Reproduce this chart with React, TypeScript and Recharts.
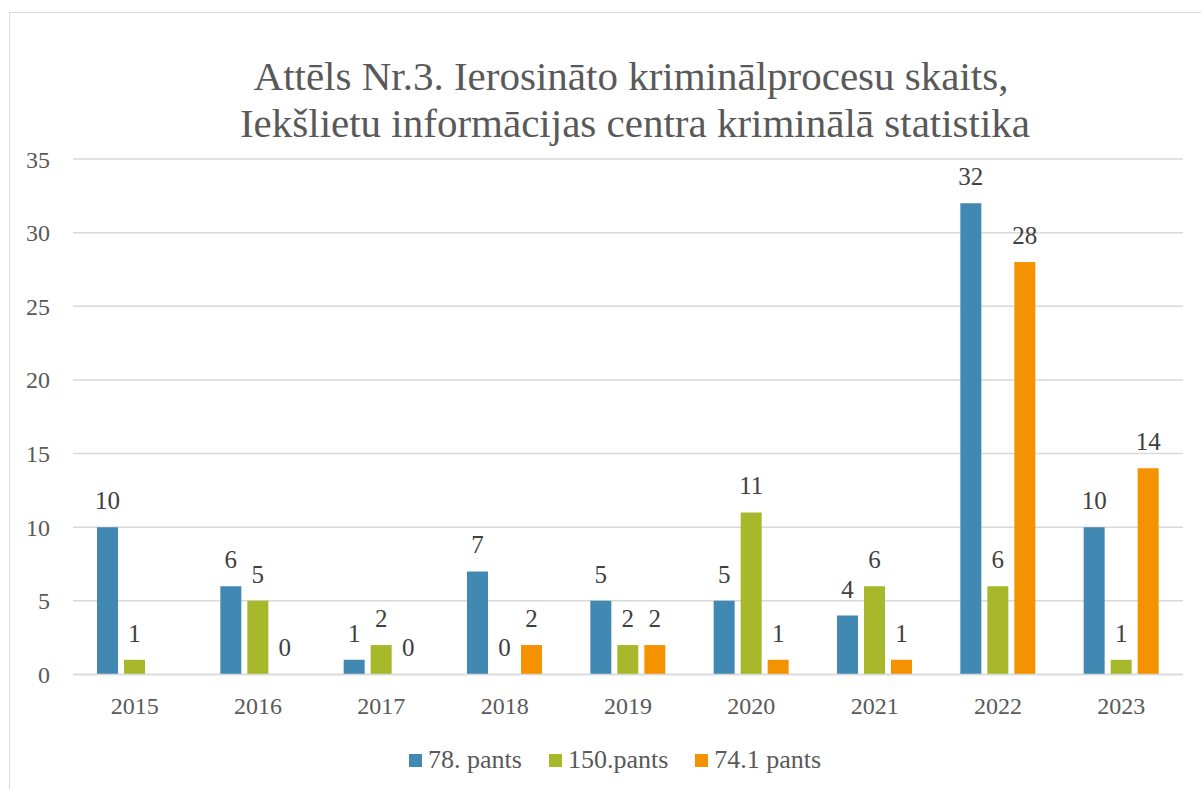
import React from "react";
import { BarChart, Bar, XAxis, YAxis, CartesianGrid, LabelList } from "recharts";

const years = ["2015", "2016", "2017", "2018", "2019", "2020", "2021", "2022", "2023"];
const pants78 = [10, 6, 1, 7, 5, 5, 4, 32, 10];
const pants150 = [1, 5, 2, 0, 2, 11, 6, 6, 1];
const pants741: (number | null)[] = [null, 0, 0, 2, 2, 1, 1, 28, 14];
const yTicks = [0, 5, 10, 15, 20, 25, 30, 35];

const series = [
  { key: "p78", name: "78. pants", color: "#4189b3" },
  { key: "p150", name: "150.pants", color: "#a7b82a" },
  { key: "p741", name: "74.1 pants", color: "#f59200" },
];

const data = years.map((year, i) => ({
  year,
  p78: pants78[i],
  p150: pants150[i],
  p741: pants741[i],
}));

const FONT = '"Liberation Serif", "Times New Roman", serif';

export default function App() {
  return (
    <div
      style={{
        position: "absolute",
        left: 0,
        top: 0,
        width: 1201,
        height: 789,
        overflow: "hidden",
        background: "#fff",
        fontFamily: FONT,
      }}
    >
      <div
        style={{
          position: "absolute",
          left: 9,
          top: 12,
          width: 1210,
          height: 800,
          border: "1.5px solid #d9d9d9",
          boxSizing: "border-box",
        }}
      />
      <svg width={1201} height={150} style={{ position: "absolute", left: 0, top: 0 }}>
        <text x={631} y={90} textAnchor="middle" fontSize={41} fill="#595959" fontFamily={FONT}>
          Attēls Nr.3. Ierosināto kriminālprocesu skaits,
        </text>
        <text x={635} y={137} textAnchor="middle" fontSize={41} fill="#595959" fontFamily={FONT}>
          Iekšlietu informācijas centra kriminālā statistika
        </text>
      </svg>
      <div style={{ position: "absolute", left: 0, top: 0 }}>
        <BarChart
          width={1201}
          height={789}
          data={data}
          margin={{ top: 159, right: 18, bottom: 0, left: 0 }}
          barSize={21}
          barGap={6}
        >
          <CartesianGrid vertical={false} stroke="#d9d9d9" strokeWidth={1.5} />
          <XAxis
            dataKey="year"
            height={114.5}
            axisLine={{ stroke: "#d9d9d9", strokeWidth: 1.5 }}
            tickLine={false}
            tickSize={0}
            tickMargin={22}
            tick={{ fill: "#595959", fontSize: 24, fontFamily: FONT }}
          />
          <YAxis
            width={73}
            domain={[0, 35]}
            ticks={yTicks}
            axisLine={false}
            tickLine={false}
            tickSize={0}
            tickMargin={23}
            tick={{ fill: "#595959", fontSize: 24, fontFamily: FONT }}
          />
          {series.map((s) => (
            <Bar
              key={s.key}
              dataKey={s.key}
              name={s.name}
              fill={s.color}
              minPointSize={0.01}
              isAnimationActive={false}
            >
              <LabelList
                dataKey={s.key}
                position="top"
                offset={18}
                fill="#404040"
                fontSize={25}
                fontFamily={FONT}
              />
            </Bar>
          ))}
        </BarChart>
      </div>
      <div
        style={{
          position: "absolute",
          left: 409,
          top: 745,
          display: "flex",
          alignItems: "center",
          fontSize: 26,
          color: "#595959",
          fontFamily: FONT,
          whiteSpace: "nowrap",
        }}
      >
        {series.map((s) => (
          <div key={s.key} style={{ display: "flex", alignItems: "center", marginRight: 27 }}>
            <span style={{ width: 13, height: 13, background: s.color, marginRight: 6, display: "inline-block" }} />
            <span>{s.name}</span>
          </div>
        ))}
      </div>
    </div>
  );
}
